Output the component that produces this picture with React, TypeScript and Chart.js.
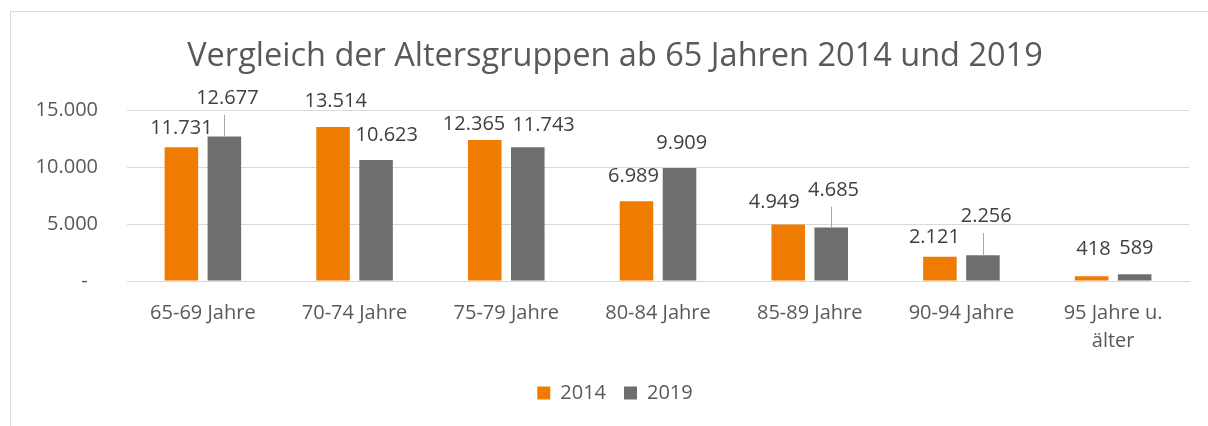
import React, { useEffect, useRef } from "react";
import { Chart, registerables } from "chart.js";

Chart.register(...registerables);

const categories: (string | string[])[] = [
  "65-69 Jahre",
  "70-74 Jahre",
  "75-79 Jahre",
  "80-84 Jahre",
  "85-89 Jahre",
  "90-94 Jahre",
  ["95 Jahre u.", "älter"],
];
const values2014 = [11731, 13514, 12365, 6989, 4949, 2121, 418];
const values2019 = [12677, 10623, 11743, 9909, 4685, 2256, 589];
const yTicks = [0, 5000, 10000, 15000];

// label placement offsets (dx, dy) relative to bar top-centre, in px
const labelOffsets2014 = [[0, -20], [2.6, -26.4], [-10.7, -16.5], [-3, -25.7], [-14, -23.3], [-5.5, -20.6], [1.8, -27.5]];
const labelOffsets2019 = [[3, -39], [10.7, -25.6], [15.8, -23.2], [2.2, -25.3], [2.3, -38.3], [3.3, -39.7], [1.7, -27]];

const FONT = "'Open Sans', 'Noto Sans', sans-serif";

function fmt(v: number): string {
  if (v === 0) return "-  ";
  return String(Math.round(v)).replace(/\B(?=(\d{3})+(?!\d))/g, ".");
}

const labelPlugin = {
  id: "dataLabels",
  afterDatasetsDraw(chart: any) {
    const ctx = chart.ctx;
    const offsets = [labelOffsets2014, labelOffsets2019];
    ctx.save();
    ctx.font = `20px ${FONT}`;
    ctx.textAlign = "center";
    ctx.textBaseline = "middle";
    chart.data.datasets.forEach((ds: any, di: number) => {
      const meta = chart.getDatasetMeta(di);
      meta.data.forEach((bar: any, i: number) => {
        const [dx, dy] = offsets[di][i];
        const lx = bar.x + dx;
        const ly = bar.y + dy;
        const gap = bar.y - (ly + 17.5);
        if (gap > 15) {
          ctx.strokeStyle = "#a6a6a6";
          ctx.lineWidth = 1;
          ctx.beginPath();
          ctx.moveTo(Math.round(bar.x) + 0.5, ly + 17.5);
          ctx.lineTo(Math.round(bar.x) + 0.5, bar.y);
          ctx.stroke();
        }
        ctx.fillStyle = "#404040";
        ctx.fillText(fmt(ds.data[i]), lx, ly + 1);
      });
    });
    ctx.restore();
  },
};

export default function App() {
  const ref = useRef<HTMLCanvasElement | null>(null);
  useEffect(() => {
    if (!ref.current) return;
    const chart = new Chart(ref.current, {
      type: "bar",
      data: {
        labels: categories,
        datasets: [
          {
            label: "2014",
            data: values2014,
            backgroundColor: "#EF7C00",
            categoryPercentage: 0.567,
            barPercentage: 0.78,
          },
          {
            label: "2019",
            data: values2019,
            backgroundColor: "#6E6E6E",
            categoryPercentage: 0.567,
            barPercentage: 0.78,
          },
        ],
      },
      options: {
        animation: false,
        responsive: false,
        maintainAspectRatio: false,
        layout: { padding: { left: 30, right: 30, top: 0, bottom: 13 } },
        plugins: {
          title: {
            display: true,
            text: "Vergleich der Altersgruppen ab 65 Jahren 2014 und 2019",
            color: "#595959",
            font: { family: FONT, size: 32.5, weight: "normal", lineHeight: 1.2 },
            padding: { top: 25.5, bottom: 33.5 },
          },
          legend: {
            position: "bottom",
            labels: {
              color: "#595959",
              font: { family: FONT, size: 20 },
              boxWidth: 13,
              boxHeight: 13,
              padding: 18,
            },
          },
          tooltip: { enabled: false },
        },
        scales: {
          x: {
            afterFit(scale: any) {
              scale.height = 84;
            },
            grid: { display: false, drawTicks: false },
            border: { display: true, color: "#d9d9d9" },
            ticks: {
              color: "#595959",
              font: { family: FONT, size: 20, lineHeight: 1.42 },
              padding: 18,
              maxRotation: 0,
              autoSkip: false,
            },
          },
          y: {
            min: 0,
            max: 15000,
            afterBuildTicks(scale: any) {
              scale.ticks = yTicks.map((v) => ({ value: v }));
            },
            afterFit(scale: any) {
              scale.width = 86;
              // let tick labels extend past the axis box (no clipping)
              scale._computeLabelArea = () => undefined;
            },
            grid: { color: "#d9d9d9", lineWidth: 1, drawTicks: false },
            border: { display: false },
            ticks: {
              color: "#595959",
              font: { family: FONT, size: 20 },
              padding: 29,
              callback: (v: any) => fmt(Number(v)),
            },
          },
        },
      },
      plugins: [labelPlugin],
    });
    return () => chart.destroy();
  }, []);

  return (
    <div
      style={{
        position: "fixed",
        left: 0,
        top: 0,
        width: 1208,
        height: 426,
        overflow: "hidden",
        background: "#ffffff",
      }}
    >
      <div
        style={{
          position: "absolute",
          left: 10,
          top: 11,
          width: 1300,
          height: 500,
          border: "1px solid #d9d9d9",
          boxSizing: "border-box",
        }}
      />
      <canvas
        ref={ref}
        width={1208}
        height={414}
        style={{ position: "absolute", left: 11, top: 12, width: 1208, height: 414 }}
      />
    </div>
  );
}
